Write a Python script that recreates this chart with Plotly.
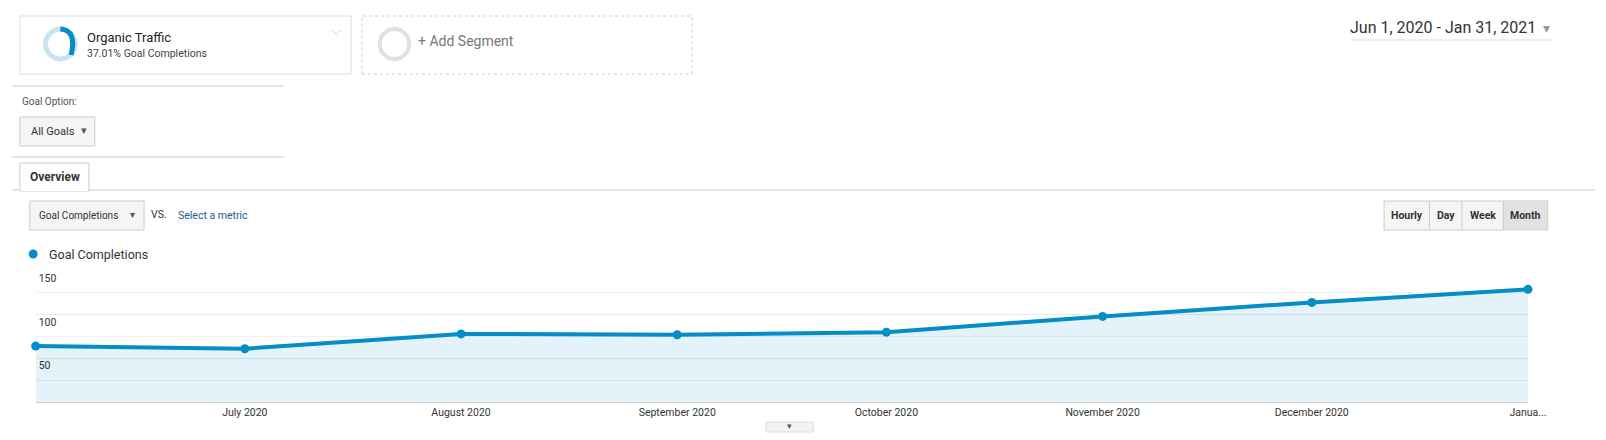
import plotly.graph_objects as go

months = ["2020-06-01","2020-07-01","2020-08-01","2020-09-01","2020-10-01","2020-11-01","2020-12-01","2021-01-01"]
goal_completions = [64, 61, 78, 77, 80, 98, 114, 129]
tick_labels = ["...", "July 2020", "August 2020", "September 2020", "October 2020", "November 2020", "December 2020", "Janua..."]
y_ticks = [50, 100, 150]

W, H = 1606, 440
def px(x): return x / W
def py(y): return 1 - y / H

BLUE = "#058dc7"
FONT = "Roboto"

fig = go.Figure()
fig.add_trace(go.Scatter(
    x=months, y=goal_completions, mode="lines+markers",
    line=dict(color=BLUE, width=4), marker=dict(size=9, color=BLUE),
    fill="tozeroy", fillcolor="rgba(5,141,199,0.11)", showlegend=False, cliponaxis=False,
    hovertemplate="%{y}<extra></extra>"))

shapes, ann = [], []
def rect(x0, y0, x1, y1, line="#ddd", fill="white", dash="solid", width=1):
    shapes.append(dict(type="rect", xref="paper", yref="paper", x0=px(x0), x1=px(x1),
                       y0=py(y1), y1=py(y0), line=dict(color=line, width=width, dash=dash), fillcolor=fill, layer="above"))
def line(x0, y0, x1, y1, color="#ccc", width=1):
    shapes.append(dict(type="line", xref="paper", yref="paper", x0=px(x0), x1=px(x1),
                       y0=py(y0), y1=py(y1), line=dict(color=color, width=width), layer="above"))
def text(x, y, s, size=12, color="#333", xanchor="left", bold=False):
    ann.append(dict(xref="paper", yref="paper", x=px(x), y=py(y), text=("<b>%s</b>" % s) if bold else s,
                    showarrow=False, xanchor=xanchor, yanchor="middle",
                    font=dict(family=FONT, size=size, color=color)))

# segment boxes
rect(8, 8, 344, 66, line="#ddd")
rect(355, 8, 690, 66, line="#ccc", dash="dot")
shapes.append(dict(type="circle", xref="paper", yref="paper", x0=px(34), x1=px(64), y0=py(51), y1=py(21),
                   line=dict(color="#c8e4f2", width=5)))
shapes.append(dict(type="path", xref="paper", yref="paper",
                   path="M %f %f Q %f %f %f %f" % (px(49), py(21), px(66), py(22), px(60), py(47)),
                   line=dict(color=BLUE, width=5)))
shapes.append(dict(type="circle", xref="paper", yref="paper", x0=px(373), x1=px(403), y0=py(51), y1=py(21),
                   line=dict(color="#e0e0e0", width=4)))
text(74, 29, "Organic Traffic", 13, "#222")
text(74, 45, "37.01% Goal Completions", 10.5, "#444")
text(322, 22, "⌵", 14, "#ccc")
text(410, 33, "+ Add Segment", 14, "#777")

# date range
text(1548, 20, "Jun 1, 2020 - Jan 31, 2021", 16, "#333", xanchor="right")
text(1551, 20, "▾", 14, "#999")
line(1359, 32, 1563, 32, "#eee", 2)

# goal option
line(0, 78, 276, 78, "#ccc")
text(8, 93, "Goal Option:", 10, "#555")
rect(8, 109, 84, 138, line="#ccc", fill="#f5f5f5")
text(17, 123, "All Goals", 11, "#333")
text(68, 122, "▾", 11, "#555")
line(0, 149, 276, 149, "#ccc")

# overview tab
line(0, 182, 1606, 182, "#ccc")
rect(8, 155, 78, 183, line="#ccc", fill="white")
line(9, 182, 77, 182, "white", 2)
text(16, 169, "Overview", 12, "#333", bold=True)

# metric selector
rect(18, 193, 134, 222, line="#ccc", fill="#f5f5f5")
text(25, 207, "Goal Completions", 10, "#333")
text(118, 206, "▾", 10, "#555")
text(139, 206, "VS.", 10.5, "#333")
text(166, 207, "Select a metric", 10.5, "#1a5e91")

# granularity buttons
rect(1392, 193, 1558, 222, line="#ccc", fill="#f5f5f5")
rect(1513, 194, 1557, 221, line="#ddd", fill="#e2e2e2")
for xb in [1438, 1471, 1513]:
    line(xb, 193, xb, 222, "#ccc")
text(1415, 207, "Hourly", 10.5, "#333", xanchor="center", bold=True)
text(1455, 207, "Day", 10.5, "#333", xanchor="center", bold=True)
text(1492, 207, "Week", 10.5, "#333", xanchor="center", bold=True)
text(1535, 207, "Month", 10.5, "#333", xanchor="center", bold=True)

# legend
shapes.append(dict(type="circle", xref="paper", yref="paper", x0=px(17), x1=px(26), y0=py(250.5), y1=py(241.5),
                   line=dict(width=0), fillcolor=BLUE))
text(36, 246, "Goal Completions", 12.5, "#333")

# bottom handle
rect(765, 414, 813, 424, line="#ddd", fill="#f3f3f3")
text(789, 418, "▾", 9, "#555", xanchor="center")

fig.update_layout(
    width=W, height=H, margin=dict(l=0, r=0, t=0, b=0),
    paper_bgcolor="white", plot_bgcolor="white",
    shapes=shapes, annotations=ann,
    xaxis=dict(domain=[px(24), px(1538)], type="date", range=["2020-06-01", "2021-01-01"],
               tickvals=months, ticktext=tick_labels, showgrid=False, zeroline=False,
               ticklabeloverflow="allow",
               showline=True, linecolor="#ccc", ticks="", tickfont=dict(family=FONT, size=10.5, color="#333")),
    yaxis=dict(domain=[py(394), py(263)], range=[0, 150], tickvals=y_ticks,
               ticklabelposition="inside bottom", tickfont=dict(family=FONT, size=10.5, color="#333"),
               showgrid=True, gridcolor="#e8e8e8", zeroline=False, showline=False,
               minor=dict(dtick=25, tick0=0, showgrid=True, gridcolor="#f0f0f0")),
)
fig.write_html("out.html")
